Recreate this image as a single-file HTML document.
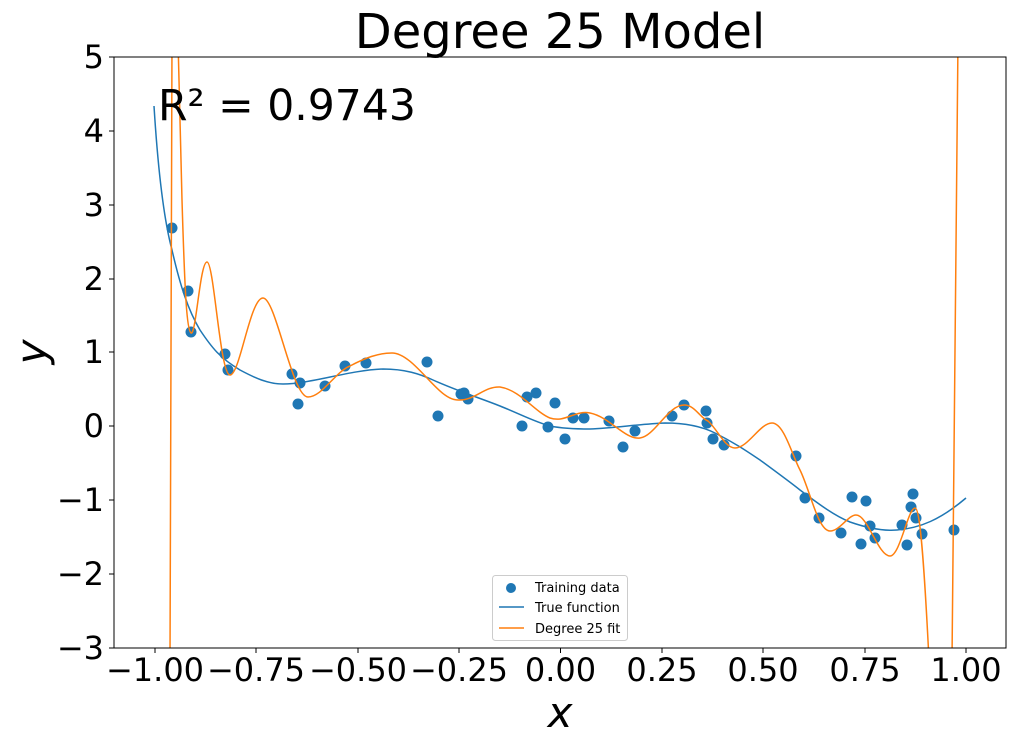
<!DOCTYPE html>
<html><head><style>body{margin:0;background:#fff}svg{display:block}text{font-family:"DejaVu Sans","Liberation Sans",sans-serif}</style></head>
<body>
<svg width="1015" height="745" viewBox="0 0 1015 745" xmlns="http://www.w3.org/2000/svg">
<defs><clipPath id="c"><rect x="114" y="57" width="892" height="591"/></clipPath></defs>
<rect width="1015" height="745" fill="#fff"/>
<text x="560" y="48" font-size="48" text-anchor="middle">Degree 25 Model</text>
<g clip-path="url(#c)">
<g fill="#1f77b4">
<circle cx="172" cy="228" r="5.5"/><circle cx="188" cy="291" r="5.5"/><circle cx="191" cy="332" r="5.5"/><circle cx="225" cy="354" r="5.5"/><circle cx="228" cy="370" r="5.5"/><circle cx="292" cy="374" r="5.5"/><circle cx="298" cy="404" r="5.5"/><circle cx="300" cy="383" r="5.5"/><circle cx="325" cy="386" r="5.5"/><circle cx="345" cy="366" r="5.5"/><circle cx="366" cy="363" r="5.5"/><circle cx="427" cy="362" r="5.5"/><circle cx="438" cy="416" r="5.5"/><circle cx="461" cy="394" r="5.5"/><circle cx="464" cy="393" r="5.5"/><circle cx="468" cy="399" r="5.5"/><circle cx="522" cy="426" r="5.5"/><circle cx="527" cy="397" r="5.5"/><circle cx="536" cy="393" r="5.5"/><circle cx="548" cy="427" r="5.5"/><circle cx="555" cy="403" r="5.5"/><circle cx="565" cy="439" r="5.5"/><circle cx="573" cy="418" r="5.5"/><circle cx="584" cy="418" r="5.5"/><circle cx="609" cy="421" r="5.5"/><circle cx="623" cy="447" r="5.5"/><circle cx="635" cy="431" r="5.5"/><circle cx="672" cy="416" r="5.5"/><circle cx="684" cy="405" r="5.5"/><circle cx="706" cy="411" r="5.5"/><circle cx="707" cy="423" r="5.5"/><circle cx="713" cy="439" r="5.5"/><circle cx="724" cy="445" r="5.5"/><circle cx="796" cy="456" r="5.5"/><circle cx="805" cy="498" r="5.5"/><circle cx="819" cy="518" r="5.5"/><circle cx="841" cy="533" r="5.5"/><circle cx="852" cy="497" r="5.5"/><circle cx="861" cy="544" r="5.5"/><circle cx="866" cy="501" r="5.5"/><circle cx="870" cy="526" r="5.5"/><circle cx="875" cy="538" r="5.5"/><circle cx="902" cy="525" r="5.5"/><circle cx="907" cy="545" r="5.5"/><circle cx="911" cy="507" r="5.5"/><circle cx="913" cy="494" r="5.5"/><circle cx="916" cy="518" r="5.5"/><circle cx="922" cy="534" r="5.5"/><circle cx="954" cy="530" r="5.5"/>
</g>
<path d="M154,106 C158,170 164,220 172,250 C180,285 188,310 200,330 C212,348 220,358 240,370 C255,378 268,384 283,384 C310,384 350,370 383,369 C405,369 420,374 433,380 C460,392 480,398 500,406 C520,414 535,422 550,426 C565,429 580,429 590,429 C615,428 640,424 665,423 C690,423 705,428 715,433 C735,443 748,452 760,460 C775,471 790,482 800,490 C820,505 835,516 850,522 C870,529 885,531 897,530 C920,528 940,520 966,498" fill="none" stroke="#1f77b4" stroke-width="1.5"/>
<path d="M170,660 L172,40 M178,40 L182,200 C185,300 187,330 191,333 C196,336 200,262 207,262 C214,262 220,375 230,375 C240,375 250,298 263,298 C276,298 292,397 308,397 C322,397 335,372 350,366 C365,358 378,353 392,353 C410,353 430,385 445,395 C452,400 456,400 460,400 C475,400 485,386 500,387 C520,390 535,412 550,418 C565,423 575,410 590,413 C610,417 625,440 640,438 C655,436 668,405 684,405 C695,405 700,418 708,421 C718,430 725,448 735,448 C748,448 760,423 772,423 C784,423 792,455 800,470 C810,490 818,531 830,531 C840,531 848,515 856,515 C868,515 878,556 890,556 C900,556 908,508 915,508 C920,508 924,560 929,660 M952,660 L958,40" fill="none" stroke="#ff7f0e" stroke-width="1.5"/>
</g>
<rect x="114" y="57" width="892" height="591" fill="none" stroke="#000" stroke-width="1"/>
<text x="158" y="120" font-size="42.5">R² = 0.9743</text>
<g stroke="#000" stroke-width="1">
<line x1="155" y1="648" x2="155" y2="653"/><line x1="256" y1="648" x2="256" y2="653"/><line x1="358" y1="648" x2="358" y2="653"/><line x1="459" y1="648" x2="459" y2="653"/><line x1="560.5" y1="648" x2="560.5" y2="653"/><line x1="662" y1="648" x2="662" y2="653"/><line x1="763" y1="648" x2="763" y2="653"/><line x1="865" y1="648" x2="865" y2="653"/><line x1="966" y1="648" x2="966" y2="653"/>
<line x1="109" y1="57" x2="114" y2="57"/><line x1="109" y1="131" x2="114" y2="131"/><line x1="109" y1="205" x2="114" y2="205"/><line x1="109" y1="279" x2="114" y2="279"/><line x1="109" y1="352" x2="114" y2="352"/><line x1="109" y1="426" x2="114" y2="426"/><line x1="109" y1="500" x2="114" y2="500"/><line x1="109" y1="574" x2="114" y2="574"/><line x1="109" y1="648" x2="114" y2="648"/>
</g>
<g font-size="32" text-anchor="middle">
<text x="155" y="681">−1.00</text><text x="256" y="681">−0.75</text><text x="358" y="681">−0.50</text><text x="459" y="681">−0.25</text><text x="560.5" y="681">0.00</text><text x="662" y="681">0.25</text><text x="763" y="681">0.50</text><text x="865" y="681">0.75</text><text x="966" y="681">1.00</text>
</g>
<g font-size="32" text-anchor="end">
<text x="104" y="68">5</text><text x="104" y="142">4</text><text x="104" y="216">3</text><text x="104" y="290">2</text><text x="104" y="363">1</text><text x="104" y="437">0</text><text x="104" y="511">−1</text><text x="104" y="585">−2</text><text x="104" y="659">−3</text>
</g>
<text x="560" y="727" font-size="42" font-style="italic" text-anchor="middle">x</text>
<text transform="translate(46,352) rotate(-90)" font-size="42" font-style="italic" text-anchor="middle">y</text>
<rect x="492.5" y="575.5" width="135" height="65" rx="3" fill="#fff" stroke="#ccc"/>
<circle cx="511" cy="588" r="5" fill="#1f77b4"/>
<line x1="499" y1="607" x2="524" y2="607" stroke="#1f77b4" stroke-width="1.5"/>
<line x1="499" y1="628" x2="524" y2="628" stroke="#ff7f0e" stroke-width="1.5"/>
<g font-size="13"><text x="535" y="592">Training data</text><text x="535" y="612">True function</text><text x="535" y="633">Degree 25 fit</text></g>
</svg>
</body></html>
